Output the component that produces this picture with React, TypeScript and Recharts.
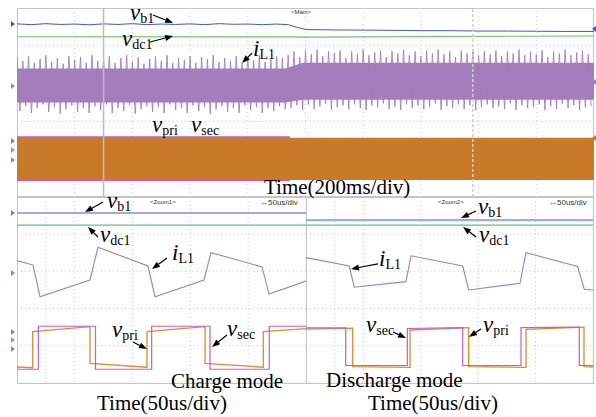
import { ComposedChart, Line, Area, XAxis, YAxis, CartesianGrid, ReferenceLine } from 'recharts'

// ---------- main window: 200 ms/div, values in screen divisions ----------
const mainTicksMs = [0, 200, 400, 600, 800, 1000, 1200, 1400, 1600, 1800, 2000]
const divTicks = [0, 1, 2, 3, 4, 5, 6, 7, 8, 9, 10]

const vb1MainT = [0, 50, 100, 150, 200, 250, 300, 350, 400, 450, 500, 550, 600, 650, 700, 750, 800, 850, 900, 940, 970, 1000, 1100, 1200, 1300, 1400, 1500, 1600, 1700, 1800, 1900, 2000]
const vb1MainV = [9.16, 9.12, 9.17, 9.13, 9.15, 9.11, 9.16, 9.13, 9.17, 9.12, 9.15, 9.13, 9.16, 9.12, 9.17, 9.14, 9.15, 9.12, 9.15, 9.12, 8.98, 8.86, 8.84, 8.83, 8.82, 8.8, 8.8, 8.78, 8.78, 8.77, 8.76, 8.76]

const vdc1MainT = [0, 950, 1000, 2000]
const vdc1MainV = [8.48, 8.47, 8.46, 8.52]

// i_L1 switching ripple: peak / trough of each sampled cycle
const iL1SampleMs = 20
const iL1Upper = [
  7.4, 7.2, 7.45, 7.1, 7.3, 7.5, 7.15, 7.35, 7.05, 7.45,
  7.25, 7.4, 7.1, 7.5, 7.2, 7.3, 7.45, 7.1, 7.35, 7.5,
  7.15, 7.4, 7.05, 7.3, 7.45, 7.2, 7.5, 7.1, 7.35, 7.25,
  7.45, 7.1, 7.4, 7.3, 7.5, 7.15, 7.35, 7.2, 7.45, 7.1,
  7.4, 7.25, 7.5, 7.15, 7.3, 7.45, 7.35,
  7.5, 7.7, 7.4, 7.75, 7.55, 7.8, 7.45, 7.7, 7.6, 7.75,
  7.35, 7.7, 7.55, 7.8, 7.5, 7.65, 7.75, 7.4, 7.7, 7.6,
  7.8, 7.5, 7.7, 7.45, 7.75, 7.6, 7.8, 7.55, 7.7, 7.4,
  7.75, 7.6, 7.8, 7.5, 7.7, 7.55, 7.75, 7.45, 7.7, 7.6,
  7.8, 7.5, 7.7, 7.55, 7.75, 7.4, 7.7, 7.6, 7.8, 7.5,
  7.65, 7.75, 7.55,
]
const iL1Lower = [
  4.55, 4.8, 4.45, 4.7, 4.9, 4.5, 4.75, 4.4, 4.65, 4.85,
  4.5, 4.7, 4.45, 4.8, 4.6, 4.9, 4.45, 4.7, 4.55, 4.85,
  4.4, 4.65, 4.8, 4.5, 4.75, 4.45, 4.9, 4.6, 4.7, 4.45,
  4.85, 4.55, 4.75, 4.4, 4.65, 4.8, 4.5, 4.7, 4.45, 4.85,
  4.6, 4.75, 4.45, 4.7, 4.55, 4.8, 4.65,
  4.7, 4.85, 4.6, 4.9, 4.65, 4.8, 4.95, 4.6, 4.75, 4.85,
  4.65, 4.9, 4.7, 4.6, 4.85, 4.75, 4.95, 4.65, 4.8, 4.6,
  4.9, 4.7, 4.85, 4.65, 4.75, 4.95, 4.6, 4.8, 4.7, 4.9,
  4.65, 4.85, 4.6, 4.75, 4.9, 4.7, 4.8, 4.65, 4.95, 4.6,
  4.85, 4.7, 4.75, 4.9, 4.6, 4.8, 4.65, 4.95, 4.7, 4.85,
  4.6, 4.75, 4.8,
]
const iL1CoreT = [0, 930, 990, 2000]
const iL1CoreHi = [6.8, 6.8, 7.1, 7.1]
const iL1CoreLo = [5.0, 5.0, 5.15, 5.15]

// v_pri / v_sec at 200 ms/div: solid band
const bridgeBandT = [0, 2000]
const bridgeBandHi = [3.14, 3.14]
const bridgeBandLo = [0.9, 0.9]
const vsecEdgeT = [0, 946]
const vsecEdgeHi = [3.17, 3.17]
const vsecEdgeLo = [0.87, 0.87]

const cursorsMs = [300, 1580]

// ---------- zoom windows: 50 us/div ----------
const zoomTicksUs = [0, 50, 100, 150, 200, 250, 300, 350, 400, 450, 500]

const chargeVb1 = 9.14
const chargeVdc1 = 8.49
const chargeIL1T = [0, 27.7, 39.8, 126.3, 140.1, 226.6, 238.8, 323.5, 335.6, 423.9, 436.0, 500]
const chargeIL1V = [6.58, 6.34, 4.64, 5.54, 7.3, 6.29, 4.64, 5.54, 7.01, 6.24, 4.78, 5.48]
const chargeVpriT = [0, 27.2, 27.2, 126.3, 126.3, 224.9, 224.9, 325.3, 325.3, 426.1, 426.1, 500]
const chargeVpriV = [0.86, 0.82, 2.76, 3.03, 1.06, 0.85, 2.76, 3.03, 1.06, 0.85, 2.76, 2.92]
const chargeVsecT = [0, 36.9, 36.9, 135.8, 135.8, 233, 233, 333.9, 333.9, 436.5, 436.5, 500]
const chargeVsecV = [0.74, 0.74, 3.05, 3.05, 0.74, 0.74, 3.05, 3.05, 0.74, 0.74, 3.05, 3.05]

const dischargeVb1 = 8.76
const dischargeVdc1 = 8.49
const dischargeIL1T = [0, 75.4, 84.1, 174.2, 182.9, 273.0, 283.4, 372.8, 383.3, 473.3, 484.8, 500]
const dischargeIL1V = [6.74, 6.29, 5.15, 5.45, 6.84, 6.29, 5.0, 5.36, 7.01, 6.26, 5.04, 5.0]
const dischargeVpriT = [0, 81.4, 81.4, 181.2, 181.2, 283.4, 283.4, 383.3, 383.3, 484.3, 484.3, 500]
const dischargeVpriV = [2.9, 2.95, 0.88, 0.84, 2.85, 2.98, 0.88, 0.84, 2.88, 3.0, 0.88, 0.86]
const dischargeVsecT = [0, 69.2, 69.2, 176.5, 176.5, 273, 273, 374.6, 374.6, 476.1, 476.1, 500]
const dischargeVsecV = [2.96, 2.96, 0.94, 0.94, 2.93, 2.98, 0.94, 0.94, 2.98, 3.0, 0.94, 0.94]

// annotation arrows, in each window's own data units
const mainArrows = [
  [471, 9.63, 541, 9.21],
  [461, 8.2, 541, 8.52],
  [815, 7.62, 780, 7.09],
]
const chargeArrows = [
  [148.8, 9.73, 117.6, 9.19],
  [140.1, 7.85, 122.8, 8.39],
  [259.5, 6.72, 233.6, 6.13],
  [200.7, 2.2, 224.9, 1.83],
  [363.3, 2.58, 337.4, 1.94],
]
const dischargeArrows = [
  [296.2, 9.25, 270.1, 8.87],
  [296.2, 7.85, 273.5, 8.39],
  [125.4, 6.4, 78.4, 6.13],
  [151.6, 2.74, 174.2, 2.42],
  [304.9, 2.9, 284.0, 2.47],
]

const PURPLE = '#a47dbd'
const ORANGE = '#c9792a'
const ORANGE_LINE = '#e08a2e'
const MAGENTA = '#c45ec8'
const GREEN = '#66c466'
const SERIF = '"Liberation Serif", "Times New Roman", serif'
const SANS = '"Liberation Sans", Arial, sans-serif'

const pts = (t: number[], v: number[]) => t.map((x, i) => ({ t: x, v: v[i] }))
const band = (t: number[], lo: number[], hi: number[]) => t.map((x, i) => ({ t: x, r: [lo[i], hi[i]] }))
const flat = (v: number) => [{ t: 0, v }, { t: 500, v }]

const iL1Zig = iL1Upper.flatMap((u, i) => [
  { t: i * iL1SampleMs, v: u },
  { t: i * iL1SampleMs + iL1SampleMs / 2, v: iL1Lower[i] },
])

function arrowShape(props: any) {
  const { x1, y1, x2, y2 } = props
  const a = Math.atan2(y2 - y1, x2 - x1)
  const bx = x2 - 8 * Math.cos(a)
  const by = y2 - 8 * Math.sin(a)
  const px = -Math.sin(a) * 3
  const py = Math.cos(a) * 3
  return (
    <g>
      <line x1={x1} y1={y1} x2={bx} y2={by} stroke="#000" strokeWidth={1.2} />
      <polygon points={`${x2},${y2} ${bx + px},${by + py} ${bx - px},${by - py}`} fill="#000" />
    </g>
  )
}

function arrows(list: number[][], key: string) {
  return list.map((a, i) => (
    <ReferenceLine
      key={key + i}
      segment={[{ x: a[0], y: a[1] }, { x: a[2], y: a[3] }]}
      ifOverflow="visible"
      shape={arrowShape}
    />
  ))
}

// y is the baseline of the main letter
function Sym({ x, y, main, sub }: { x: number; y: number; main: string; sub: string }) {
  return (
    <div style={{ position: 'absolute', left: x, top: y - 16.8, fontFamily: SERIF, fontSize: 23, lineHeight: '18px', whiteSpace: 'nowrap', color: '#000' }}>
      <i>{main}</i>
      <span style={{ fontSize: 14, position: 'relative', top: 3 }}>{sub}</span>
    </div>
  )
}

function Caption({ x, y, text }: { x: number; y: number; text: string }) {
  return (
    <div style={{ position: 'absolute', left: x, top: y - 17.6, fontFamily: SERIF, fontSize: 21, lineHeight: '21px', whiteSpace: 'nowrap', color: '#000' }}>
      {text}
    </div>
  )
}

function Tiny({ x, y, text, size = 6 }: { x: number; y: number; text: string; size?: number }) {
  return (
    <div style={{ position: 'absolute', left: x, top: y - size / 2, fontFamily: SANS, fontSize: size, lineHeight: `${size}px`, whiteSpace: 'nowrap', color: '#333' }}>
      {text}
    </div>
  )
}

function Marker({ x, y, color, dir = 'right' }: { x: number; y: number; color: string; dir?: string }) {
  const side = dir === 'right' ? { borderLeft: `4px solid ${color}` } : { borderRight: `4px solid ${color}` }
  return (
    <div style={{ position: 'absolute', left: x, top: y - 3, width: 0, height: 0, borderTop: '3px solid transparent', borderBottom: '3px solid transparent', ...side }} />
  )
}

const frame = { position: 'absolute' as const, boxShadow: 'inset 0 0 0 1px #c4c4c4' }

function ZoomChart({ w, vb1, vdc1, iL1T, iL1V, priT, priV, secT, secV, arrowList, id }: any) {
  return (
    <ComposedChart width={w} height={186} margin={{ top: 0, right: 0, bottom: 0, left: 0 }}>
      <CartesianGrid stroke="#c8c8c8" strokeDasharray="1 3" />
      <XAxis type="number" dataKey="t" domain={[0, 500]} ticks={zoomTicksUs} hide allowDataOverflow />
      <YAxis type="number" dataKey="v" domain={[0, 10]} ticks={divTicks} hide allowDataOverflow />
      <Line data={flat(vb1)} dataKey="v" stroke="#9aaee0" strokeWidth={2.2} dot={false} isAnimationActive={false} />
      <Line data={flat(vdc1)} dataKey="v" stroke={GREEN} strokeWidth={1.1} dot={false} isAnimationActive={false} />
      <Line data={pts(iL1T, iL1V)} dataKey="v" stroke={PURPLE} strokeWidth={1.1} dot={false} isAnimationActive={false} />
      <Line data={pts(priT, priV)} dataKey="v" stroke={ORANGE_LINE} strokeWidth={1.3} dot={false} isAnimationActive={false} />
      <Line data={pts(secT, secV)} dataKey="v" stroke={MAGENTA} strokeWidth={1.2} dot={false} isAnimationActive={false} />
      {arrows(arrowList, id)}
    </ComposedChart>
  )
}

export default function App() {
  return (
    <div style={{ position: 'absolute', left: 0, top: 0, width: 596, height: 417, background: '#fff', overflow: 'hidden' }}>
      {/* main window */}
      <div style={{ ...frame, left: 17, top: 8, width: 577, height: 189 }}>
        <ComposedChart width={577} height={189} margin={{ top: 0, right: 0, bottom: 0, left: 0 }}>
          <CartesianGrid stroke="#c8c8c8" strokeDasharray="1 3" />
          <XAxis type="number" dataKey="t" domain={[0, 2000]} ticks={mainTicksMs} hide allowDataOverflow />
          <YAxis type="number" domain={[0, 10]} ticks={divTicks} hide allowDataOverflow />
          <Area data={band(bridgeBandT, bridgeBandLo, bridgeBandHi)} dataKey="r" type="linear" stroke="none" fill={ORANGE} fillOpacity={1} isAnimationActive={false} />
          <Line data={pts(vsecEdgeT, vsecEdgeHi)} dataKey="v" stroke={MAGENTA} strokeWidth={1.6} dot={false} isAnimationActive={false} />
          <Line data={pts(vsecEdgeT, vsecEdgeLo)} dataKey="v" stroke={MAGENTA} strokeWidth={1.6} dot={false} isAnimationActive={false} />
          <Line data={iL1Zig} dataKey="v" stroke={PURPLE} strokeWidth={0.9} dot={false} isAnimationActive={false} />
          <Area data={band(iL1CoreT, iL1CoreLo, iL1CoreHi)} dataKey="r" type="linear" stroke="none" fill={PURPLE} fillOpacity={1} isAnimationActive={false} />
          <Line data={pts(vdc1MainT, vdc1MainV)} dataKey="v" stroke={GREEN} strokeWidth={1.1} dot={false} isAnimationActive={false} />
          <Line data={pts(vb1MainT, vb1MainV)} dataKey="v" stroke="#3a5bc0" strokeWidth={1} dot={false} isAnimationActive={false} />
          <ReferenceLine x={cursorsMs[0]} stroke="#bdbdbd" strokeWidth={1.5} ifOverflow="visible" />
          <ReferenceLine x={cursorsMs[1]} stroke="#d0d0d0" strokeWidth={1.5} strokeDasharray="3 2" ifOverflow="visible" />
          {arrows(mainArrows, 'm')}
        </ComposedChart>
      </div>

      {/* zoom 1: charge mode */}
      <div style={{ ...frame, left: 17, top: 197, width: 290, height: 187 }}>
        <ZoomChart w={289} vb1={chargeVb1} vdc1={chargeVdc1} iL1T={chargeIL1T} iL1V={chargeIL1V}
          priT={chargeVpriT} priV={chargeVpriV} secT={chargeVsecT} secV={chargeVsecV} arrowList={chargeArrows} id="c" />
      </div>

      {/* zoom 2: discharge mode */}
      <div style={{ ...frame, left: 306, top: 197, width: 288, height: 187 }}>
        <ZoomChart w={287} vb1={dischargeVb1} vdc1={dischargeVdc1} iL1T={dischargeIL1T} iL1V={dischargeIL1V}
          priT={dischargeVpriT} priV={dischargeVpriV} secT={dischargeVsecT} secV={dischargeVsecV} arrowList={dischargeArrows} id="d" />
      </div>

      {/* channel markers */}
      <Marker x={11} y={24} color="#3a5bc0" />
      <Marker x={11} y={86} color={PURPLE} />
      <Marker x={11} y={141} color="#6f86d0" />
      <Marker x={11} y={150} color={GREEN} />
      <Marker x={11} y={160} color={PURPLE} />
      <Marker x={11} y={213} color="#6f86d0" />
      <Marker x={11} y={273} color={PURPLE} />
      <Marker x={11} y={332} color="#6f86d0" />
      <Marker x={11} y={340} color={GREEN} />
      <Marker x={11} y={349} color={PURPLE} />
      <Marker x={592} y={29} color="#3a5bc0" dir="left" />
      <Marker x={592} y={82} color={PURPLE} dir="left" />
      <Marker x={592} y={138} color={ORANGE} dir="left" />

      {/* scope labels */}
      <Tiny x={291} y={12} text="<Main>" />
      <Tiny x={150} y={202} text="<Zoom1>" />
      <Tiny x={438} y={202} text="<Zoom2>" />
      <Tiny x={260} y={203} text="↔50us/div" size={8} />
      <Tiny x={549} y={203} text="↔50us/div" size={8} />

      {/* signal names */}
      <Sym x={130} y={20.5} main="v" sub="b1" />
      <Sym x={122} y={47} main="v" sub="dc1" />
      <Sym x={253} y={57} main="i" sub="L1" />
      <Sym x={152} y={133} main="v" sub="pri" />
      <Sym x={191} y={133} main="v" sub="sec" />

      <Sym x={107} y={209} main="v" sub="b1" />
      <Sym x={100} y={243} main="v" sub="dc1" />
      <Sym x={172} y={260.5} main="i" sub="L1" />
      <Sym x={112} y={338} main="v" sub="pri" />
      <Sym x={227} y={336.5} main="v" sub="sec" />

      <Sym x={478} y={215} main="v" sub="b1" />
      <Sym x={479} y={243} main="v" sub="dc1" />
      <Sym x={379} y={267} main="i" sub="L1" />
      <Sym x={366} y={333} main="v" sub="sec" />
      <Sym x={483} y={333} main="v" sub="pri" />

      <Caption x={264} y={195} text="Time(200ms/div)" />
      <Caption x={171} y={389} text="Charge mode" />
      <Caption x={97} y={410.5} text="Time(50us/div)" />
      <Caption x={326} y={388} text="Discharge mode" />
      <Caption x={368} y={410.5} text="Time(50us/div)" />
    </div>
  )
}
